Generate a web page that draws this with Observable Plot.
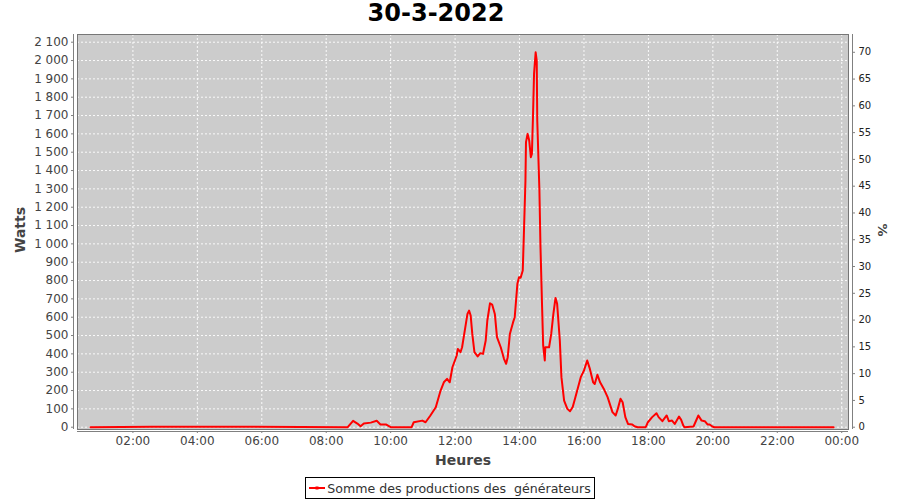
<!DOCTYPE html>
<html>
<head>
<meta charset="utf-8">
<script src="https://cdn.jsdelivr.net/npm/d3@7"></script>
<script src="https://cdn.jsdelivr.net/npm/@observablehq/plot@0.6"></script>
<style>
  html, body { margin: 0; padding: 0; background: white; }
  body { width: 900px; height: 500px; overflow: hidden; font-family: "DejaVu Sans", sans-serif; }
  #title { height: 30px; line-height: 26px; font-size: 24px; font-weight: bold; color: #000; text-align: center; width: 872px; }
  #chart svg { display: block; }
  #legend { text-align: center; margin-top: 2px; }
  #legend .box { display: inline-flex; align-items: center; border: 1px solid #000; height: 20px; padding: 0 3px 0 1px; font-size: 12.6px; color: #333; white-space: pre; }
</style>
</head>
<body>
<div id="title">30-3-2022</div>
<div id="chart"></div>
<div id="legend"><span class="box"><svg width="20" height="10"><line x1="2" x2="18" y1="5" y2="5" stroke="red" stroke-width="2"/><rect x="8.5" y="3.5" width="3" height="3" fill="red"/></svg>Somme des productions des  générateurs</span></div>
<script>
// ---- data ----
const TIMES = ["00:41","02:36","03:20","04:04","04:51","05:35","08:40","08:50","08:58","09:04","09:10","09:23","09:34","09:41","09:51","10:00","10:39","10:43","10:59","11:05","11:14","11:24","11:33","11:39","11:45","11:50","11:55","12:03","12:05","12:10","12:13","12:18","12:23","12:26","12:29","12:32","12:36","12:42","12:47","12:52","12:57","13:00","13:05","13:09","13:14","13:18","13:25","13:31","13:35","13:38","13:42","13:48","13:51","13:56","13:59","14:02","14:06","14:08","14:11","14:12","14:15","14:18","14:21","14:23","14:25","14:27","14:30","14:32","14:33","14:37","14:39","14:42","14:44","14:47","14:48","14:55","14:59","15:03","15:07","15:10","15:15","15:18","15:23","15:29","15:34","15:39","15:44","15:54","16:00","16:06","16:11","16:17","16:20","16:25","16:30","16:37","16:44","16:53","16:59","17:03","17:08","17:12","17:17","17:22","17:30","17:34","17:40","17:55","17:59","18:07","18:15","18:19","18:26","18:34","18:38","18:44","18:49","18:57","19:01","19:05","19:07","19:24","19:33","19:39","19:45","19:50","19:54","19:59","20:03","23:45"];
const WATTS = [0,2,2,2,2,2,0,35,20,5,20,25,35,15,15,0,0,27,36,27,64,109,200,245,264,245,327,391,427,409,436,527,618,636,609,509,409,386,404,400,473,582,676,669,618,491,436,373,346,382,509,573,600,782,818,815,855,1046,1345,1555,1600,1564,1473,1491,1691,1927,2045,2000,1673,1291,982,655,446,364,436,436,509,618,705,673,473,273,145,100,87,110,164,273,309,364,318,245,236,286,245,209,164,82,64,100,155,136,55,18,15,5,0,0,27,55,76,55,33,64,33,36,18,58,40,9,0,4,64,36,33,15,15,4,0,0];
const WATT_TICKS = d3.range(0, 2101, 100);
const HOUR_TICKS = [2, 4, 6, 8, 10, 12, 14, 16, 18, 20, 22, 24];
const PCT_TICKS = d3.range(0, 71, 5);
const WATTS_PER_PCT = 2045 / 70;   // right-axis scale: 70 % = 2045 W
const X_DOMAIN = [0.28, 24.21];
const Y_DOMAIN = [-12.5, 2142];

const data = TIMES.map((t, i) => {
  const [hh, mm] = t.split(":").map(Number);
  return {h: hh + mm / 60, w: WATTS[i]};
});

const wattFmt = d => d >= 1000 ? Math.floor(d / 1000) + "\u00a0" + String(d % 1000).padStart(3, "0") : String(d);
const hourFmt = h => String(h % 24).padStart(2, "0") + ":00";

const AX = "#808080";
const chart = Plot.plot({
  width: 900,
  height: 445,
  marginLeft: 77,
  marginRight: 52,
  marginTop: 4,
  marginBottom: 46,
  style: {fontFamily: "DejaVu Sans", fontSize: "12px", color: "#444", background: "white", overflow: "visible"},
  x: {domain: X_DOMAIN, label: null},
  y: {domain: Y_DOMAIN, label: null},
  marks: [
    Plot.frame({fill: "#cccccc", stroke: null}),
    Plot.gridY(WATT_TICKS, {stroke: "white", strokeOpacity: 0.9, strokeDasharray: "2,2"}),
    Plot.gridX(HOUR_TICKS, {stroke: "white", strokeOpacity: 0.9, strokeDasharray: "2,2"}),
    Plot.frame({stroke: "#777"}),
    Plot.lineY(data, {x: "h", y: "w", stroke: "#ff0000", strokeWidth: 2}),
    // axis lines (offset from plot area)
    Plot.ruleX([X_DOMAIN[0]], {dx: -4, stroke: AX}),
    Plot.ruleX([X_DOMAIN[1]], {dx: 4, stroke: AX}),
    Plot.ruleY([Y_DOMAIN[0]], {dy: 2, stroke: AX}),
    Plot.axisY(WATT_TICKS, {anchor: "left", tickSize: 2, tickPadding: 3, dx: -4, stroke: AX, fill: "#444", tickFormat: wattFmt, label: null}),
    Plot.axisY(PCT_TICKS.map(p => p * WATTS_PER_PCT), {anchor: "right", tickSize: 2, tickPadding: 4, dx: 4, stroke: AX, fill: "#222", fontSize: 10, tickFormat: d => String(Math.round(d / WATTS_PER_PCT)), label: null}),
    Plot.axisX(HOUR_TICKS, {anchor: "bottom", tickSize: 2, tickPadding: 3, dy: 2, stroke: AX, fill: "#444", tickFormat: hourFmt, label: null}),
    Plot.text(["Watts"], {frameAnchor: "left", dx: -57, dy: -2, rotate: -90, fontSize: 14, fontWeight: "bold", fill: "#444", textAnchor: "middle"}),
    Plot.text(["Heures"], {frameAnchor: "bottom", dy: 35, fontSize: 14, fontWeight: "bold", fill: "#444", textAnchor: "middle"}),
    Plot.text(["%"], {frameAnchor: "right", dx: 34, dy: -2, rotate: 90, fontSize: 13, fontWeight: "bold", fill: "#444", textAnchor: "middle"})
  ]
});
document.getElementById("chart").appendChild(chart);
</script>
</body>
</html>
